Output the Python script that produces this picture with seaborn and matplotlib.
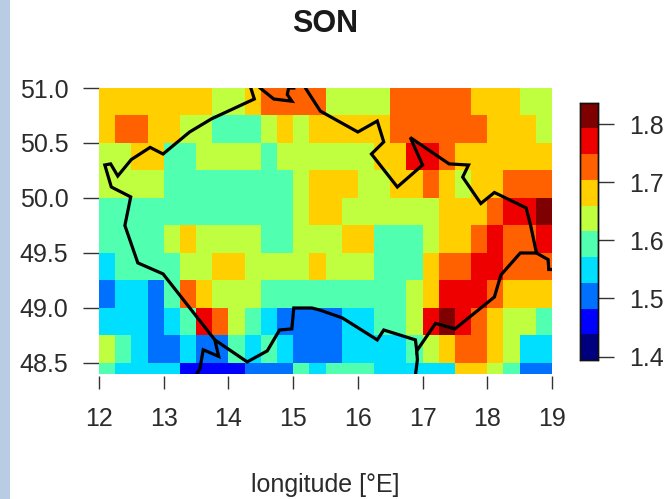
import matplotlib
matplotlib.use("Agg")
import matplotlib.pyplot as plt
import pandas as pd
import seaborn as sns
from matplotlib.colors import ListedColormap
from matplotlib.patches import Rectangle


# grid cells, 0.25 deg wide, top row starts at 51.0 N
LON_EDGES = [12 + 0.25 * i for i in range(28)]
LAT_TOPS = [51.0 - 0.25 * i for i in range(11)]

ROW_0 = [1.68, 1.68, 1.68, 1.68, 1.68, 1.68, 1.68, 1.64, 1.64, 1.68, 1.73, 1.73, 1.73, 1.73,
         1.64, 1.64, 1.64, 1.64, 1.73, 1.73, 1.73, 1.73, 1.73, 1.68, 1.68, 1.68, 1.64, 1.64]
ROW_1 = [1.68, 1.73, 1.73, 1.68, 1.68, 1.64, 1.64, 1.59, 1.59, 1.59, 1.64, 1.68, 1.64, 1.68,
         1.68, 1.68, 1.68, 1.68, 1.73, 1.73, 1.73, 1.73, 1.73, 1.73, 1.68, 1.68, 1.68, 1.64]
ROW_2 = [1.64, 1.64, 1.68, 1.68, 1.59, 1.59, 1.64, 1.64, 1.64, 1.64, 1.59, 1.64, 1.64, 1.64,
         1.64, 1.64, 1.64, 1.68, 1.68, 1.77, 1.77, 1.73, 1.68, 1.68, 1.68, 1.68, 1.68, 1.68]
ROW_3 = [1.64, 1.64, 1.64, 1.64, 1.59, 1.59, 1.59, 1.59, 1.59, 1.59, 1.59, 1.59, 1.64, 1.68,
         1.68, 1.68, 1.64, 1.64, 1.68, 1.68, 1.73, 1.68, 1.64, 1.68, 1.68, 1.73, 1.73, 1.73]
ROW_4 = [1.59, 1.59, 1.59, 1.59, 1.59, 1.59, 1.59, 1.59, 1.59, 1.59, 1.59, 1.59, 1.64, 1.68,
         1.68, 1.64, 1.64, 1.64, 1.64, 1.64, 1.64, 1.68, 1.68, 1.68, 1.73, 1.77, 1.77, 1.82]
ROW_5 = [1.59, 1.59, 1.59, 1.59, 1.64, 1.68, 1.64, 1.64, 1.64, 1.64, 1.59, 1.59, 1.64, 1.64,
         1.64, 1.68, 1.68, 1.59, 1.59, 1.59, 1.64, 1.68, 1.68, 1.73, 1.77, 1.73, 1.73, 1.77]
ROW_6 = [1.55, 1.59, 1.59, 1.59, 1.59, 1.64, 1.64, 1.68, 1.68, 1.64, 1.64, 1.64, 1.64, 1.68,
         1.64, 1.64, 1.64, 1.59, 1.59, 1.59, 1.68, 1.73, 1.73, 1.77, 1.77, 1.73, 1.73, 1.73]
ROW_7 = [1.50, 1.55, 1.55, 1.50, 1.59, 1.73, 1.68, 1.64, 1.64, 1.64, 1.59, 1.59, 1.59, 1.59,
         1.59, 1.59, 1.59, 1.59, 1.59, 1.64, 1.68, 1.77, 1.77, 1.77, 1.73, 1.68, 1.68, 1.68]
ROW_8 = [1.55, 1.55, 1.55, 1.50, 1.55, 1.59, 1.77, 1.73, 1.64, 1.59, 1.55, 1.50, 1.50, 1.50,
         1.50, 1.55, 1.55, 1.59, 1.59, 1.64, 1.77, 1.82, 1.77, 1.73, 1.68, 1.64, 1.64, 1.59]
ROW_9 = [1.64, 1.59, 1.55, 1.50, 1.50, 1.55, 1.50, 1.50, 1.59, 1.55, 1.59, 1.55, 1.50, 1.50,
         1.50, 1.55, 1.55, 1.55, 1.55, 1.59, 1.64, 1.68, 1.73, 1.73, 1.68, 1.64, 1.55, 1.55]
ROW_10 = [1.59, 1.55, 1.55, 1.55, 1.55, 1.46, 1.46, 1.46, 1.46, 1.50, 1.50, 1.50, 1.59, 1.55,
          1.59, 1.59, 1.59, 1.55, 1.55, 1.55, 1.55, 1.55, 1.68, 1.68, 1.64, 1.59, 1.50, 1.50]

CLASS_COLORS = ["#00007F", "#0000FF", "#0070FF", "#00DFFF", "#50FFAF",
                "#BFFF40", "#FFCF00", "#FF6000", "#EF0000", "#7F0000"]

LON_TICKS = [12, 13, 14, 15, 16, 17, 18, 19]
LAT_TICKS = [51.0, 50.5, 50.0, 49.5, 49.0, 48.5]
CBAR_TICKS = [1.4, 1.5, 1.6, 1.7, 1.8]

# country border
MAIN_LON = [14.33, 14.40, 13.74, 13.40, 12.99, 12.79, 12.50, 12.29, 12.18, 12.09, 12.19, 12.49, 12.40,
            12.60, 12.99, 13.79, 14.29, 14.60, 14.79, 14.98, 15.01, 15.29, 15.42, 15.76, 16.30, 16.40,
            16.89, 16.91, 17.20, 17.50, 18.11, 18.21, 18.51, 18.76, 18.94, 18.95, 19.02]
MAIN_LAT = [51.03, 50.90, 50.72, 50.60, 50.40, 50.46, 50.35, 50.20, 50.31, 50.30, 50.10, 50.01, 49.75,
            49.41, 49.31, 48.71, 48.51, 48.61, 48.80, 48.81, 49.00, 49.00, 48.98, 48.91, 48.71, 48.80,
            48.71, 48.61, 48.86, 48.81, 49.10, 49.30, 49.50, 49.50, 49.44, 49.35, 49.35]
NORTH_LON = [18.76, 18.67, 18.60, 18.11, 17.90, 17.62, 17.71, 17.41, 16.81, 17.00, 16.61, 16.21, 16.40,
             16.30, 16.00, 15.42, 15.19, 15.16, 15.01, 15.01, 14.93, 14.91, 14.98, 14.70, 14.49, 14.44, 14.33]
NORTH_LAT = [49.50, 49.75, 49.91, 50.05, 49.95, 50.19, 50.30, 50.31, 50.55, 50.30, 50.10, 50.40, 50.51,
             50.70, 50.60, 50.79, 51.00, 51.05, 51.05, 51.00, 51.00, 50.94, 50.88, 50.90, 51.00, 51.03, 51.03]
SOUTH_LON = [16.91, 16.92, 16.89]
SOUTH_LAT = [48.61, 48.53, 48.39]
SW_LON = [13.79, 13.85, 13.61, 13.56, 13.50]
SW_LAT = [48.71, 48.56, 48.62, 48.45, 48.39]

VMIN = 1.394
VMAX = 1.837
LAT_BOTTOM = 48.4
W, H = 671, 499


def to_cell(lon, lat):
    """Heatmap axes count cells, so convert degrees to cell units."""
    return [(x - 12) / 0.25 for x in lon], [(51.0 - y) / 0.25 for y in lat]


def px_axes(x0, y0, x1, y1):
    return [x0 / W, 1 - y1 / H, (x1 - x0) / W, (y1 - y0) / H]


def main():
    sns.set_style("white")
    plt.rcParams["font.family"] = ["Liberation Sans", "DejaVu Sans"]
    text_color = "#2b2b2b"

    rows = [ROW_0, ROW_1, ROW_2, ROW_3, ROW_4, ROW_5, ROW_6, ROW_7, ROW_8, ROW_9, ROW_10]
    df = pd.DataFrame(rows, index=LAT_TOPS, columns=LON_EDGES)

    fig = plt.figure(figsize=(W / 100, H / 100), dpi=100)
    fig.patches.append(Rectangle((0, 0), 10 / W, 1, transform=fig.transFigure,
                                 facecolor="#B8CCE4", edgecolor="none"))

    ax = fig.add_axes(px_axes(99, 88, 552, 374))
    cax = fig.add_axes(px_axes(580, 102.7, 597.5, 360))

    sns.heatmap(df, ax=ax, cbar_ax=cax, cmap=ListedColormap(CLASS_COLORS), vmin=VMIN, vmax=VMAX,
                xticklabels=False, yticklabels=False, linewidths=0)
    ax.set_xlim(0, 28)
    ax.set_ylim((51.0 - LAT_BOTTOM) / 0.25, 0)

    for lon, lat in [(MAIN_LON, MAIN_LAT), (NORTH_LON, NORTH_LAT), (SOUTH_LON, SOUTH_LAT), (SW_LON, SW_LAT)]:
        xs, ys = to_cell(lon, lat)
        ax.plot(xs, ys, color="black", linewidth=2.3, solid_joinstyle="miter")

    tick_x, _ = to_cell(LON_TICKS, [])
    _, tick_y = to_cell([], LAT_TICKS)
    ax.set_xticks(tick_x)
    ax.set_xticklabels([str(v) for v in LON_TICKS])
    ax.set_yticks(tick_y)
    ax.set_yticklabels([f"{v:.1f}" for v in LAT_TICKS], rotation=0)
    ax.spines["bottom"].set_position(("outward", 1.5))
    ax.tick_params(axis="x", bottom=True, length=9.5, width=1, color="#333333", pad=13,
                   labelsize=18, labelcolor=text_color)
    ax.tick_params(axis="y", left=True, length=11.5, width=1, color="#333333", pad=10.5,
                   labelsize=18, labelcolor=text_color)

    cax.set_yticks(CBAR_TICKS)
    cax.set_yticklabels([f"{v:.1f}" for v in CBAR_TICKS])
    cax.tick_params(axis="y", right=True, length=11.5, width=1, color="#333333", pad=11.5,
                    labelsize=18, labelcolor=text_color)
    for spine in cax.spines.values():
        spine.set_visible(True)
        spine.set_color("#111111")
        spine.set_linewidth(1)

    fig.text(325 / W, 1 - 24 / H, "SON", ha="center", va="center", fontsize=22,
             fontweight="bold", color="#1a1a1a")
    fig.text(325 / W, 1 - 485 / H, "longitude [°E]", ha="center", va="center", fontsize=18,
             color=text_color)

    fig.savefig("out.png", dpi=100)
    plt.close(fig)


if __name__ == "__main__":
    main()
